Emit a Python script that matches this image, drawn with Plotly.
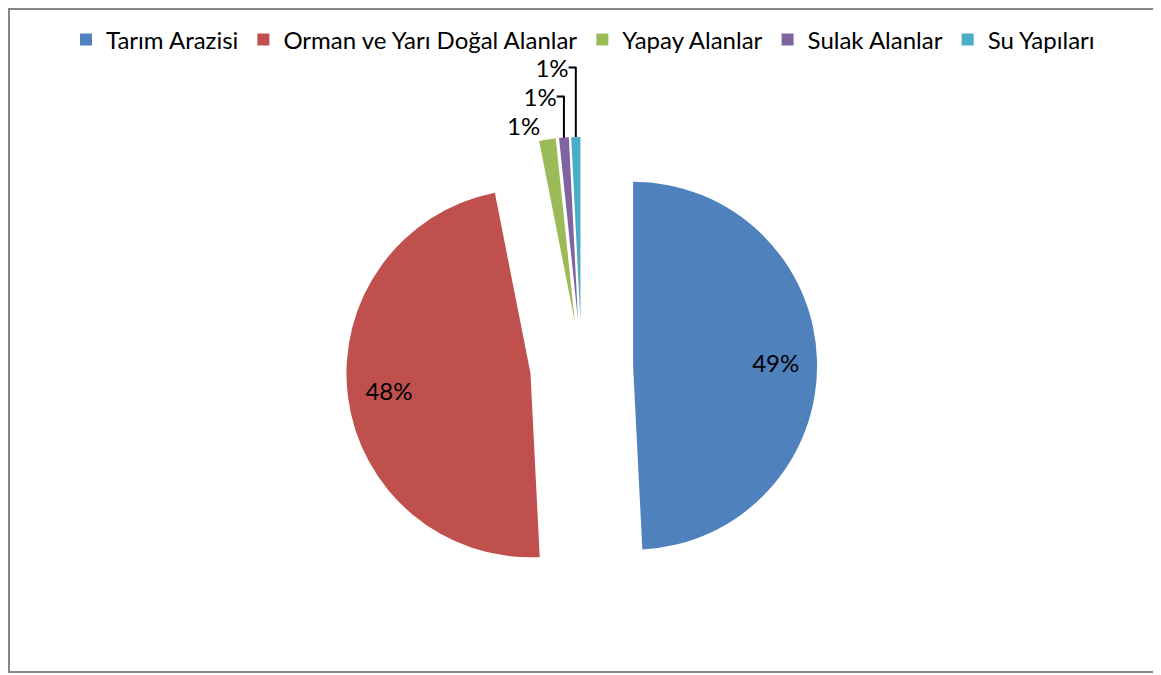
import plotly.graph_objects as go

categories = ["Tarım Arazisi", "Orman ve Yarı Doğal Alanlar", "Yapay Alanlar", "Sulak Alanlar", "Su Yapıları"]
values = [49.2, 47.7, 1.45, 0.85, 0.8]
colors = ["#4F81BD", "#C0504D", "#9BBB59", "#8064A2", "#4BACC6"]
pulls = [0.28, 0.28, 0.25, 0.25, 0.25]
outer_text_positions = ["none", "none", "outside", "outside", "outside"]
inner_text_positions = ["inside", "inside", "none", "none", "none"]

# page is offset by the 8px body margin, so the figure is 8px smaller
OFF = 8
W, H = 1161 - OFF, 675 - OFF
FONT = "Lato"
FS = 24
ROT = 0

# pie placement (page pixels of reference): centre (581.6, 367), radius 184
cx, cy, R = 581.6 - OFF, 367 - OFF, 184
half = R * (1 + max(pulls))
dom_x = [(cx - 300) / W, (cx + 300) / W]
dom_y = [1 - (cy + half) / H, 1 - (cy - half) / H]

fig = go.Figure()
fig.add_trace(go.Pie(
    labels=categories,
    values=values,
    marker=dict(colors=colors, line=dict(width=0)),
    pull=pulls,
    sort=False,
    direction="clockwise",
    rotation=ROT,
    texttemplate="%{percent:.0%}",
    textposition=outer_text_positions,
    textfont=dict(family=FONT, size=FS, color="black"),
    outsidetextfont=dict(family=FONT, size=FS, color="black"),
    domain=dict(x=dom_x, y=dom_y),
    hoverinfo="label+percent",
))
# transparent ring carrying the inside labels of the two large slices (placed near the rim)
fig.add_trace(go.Pie(
    labels=categories,
    values=values,
    marker=dict(colors=["rgba(0,0,0,0)"] * len(values), line=dict(width=0)),
    pull=pulls,
    hole=0.55,
    sort=False,
    direction="clockwise",
    rotation=ROT,
    texttemplate="%{percent:.0%}",
    textposition=inner_text_positions,
    insidetextorientation="horizontal",
    textfont=dict(family=FONT, size=FS, color="black"),
    domain=dict(x=dom_x, y=dom_y),
    showlegend=False,
    hoverinfo="skip",
))

fig.update_layout(
    width=W, height=H,
    margin=dict(l=0, r=0, t=0, b=0, autoexpand=False),
    paper_bgcolor="white",
    plot_bgcolor="white",
    font=dict(family=FONT, size=FS, color="black"),
    showlegend=True,
    legend=dict(orientation="h", x=(583 - OFF) / W, xanchor="center", y=1 - (40 - OFF) / H, yanchor="middle",
                bgcolor="rgba(0,0,0,0)",
                font=dict(family=FONT, size=FS, color="black"), itemwidth=30, tracegroupgap=0),
    shapes=[dict(type="rect", xref="paper", yref="paper",
                 x0=1 / W, x1=(1158 - OFF) / W, y0=1 - (672 - OFF) / H, y1=1 - 1 / H,
                 line=dict(color="#868686", width=2), fillcolor="rgba(0,0,0,0)")],
)

fig.write_html("out.html")
